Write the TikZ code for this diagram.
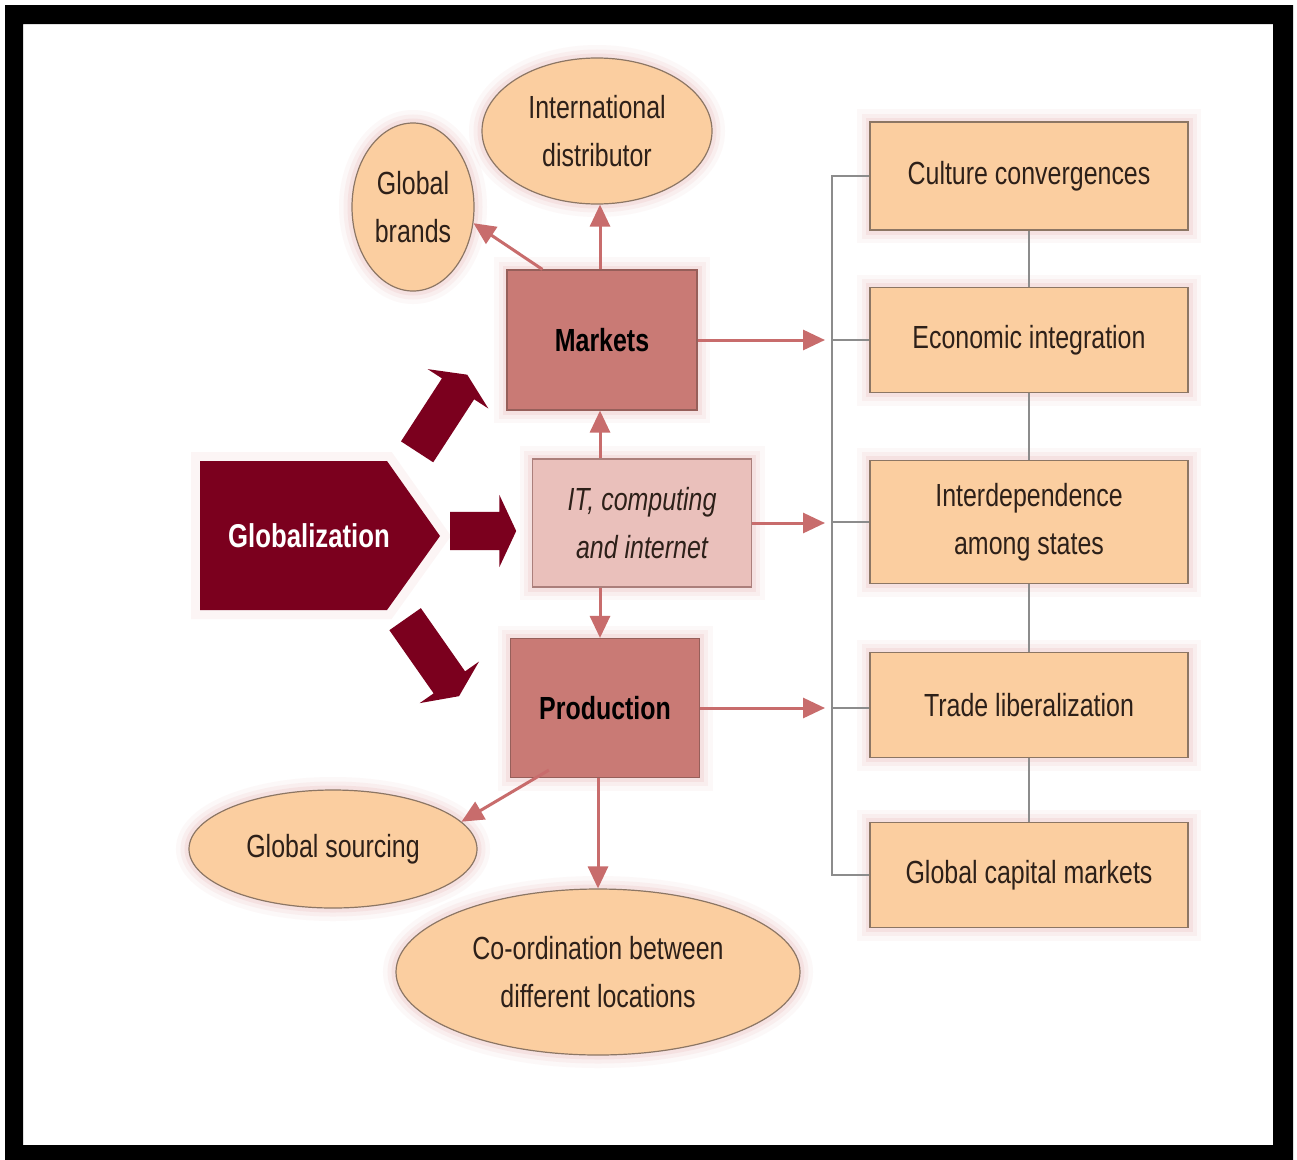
\documentclass[tikz,border=0pt]{standalone}
\usepackage{fontspec}
\setmainfont[FakeStretch=0.78]{Liberation Sans}
\usetikzlibrary{shapes.geometric,shapes.arrows,arrows.meta}
\definecolor{darkred}{RGB}{123,0,30}
\definecolor{midred}{RGB}{201,122,117}
\definecolor{midredline}{RGB}{150,95,90}
\definecolor{lightred}{RGB}{234,192,187}
\definecolor{peach}{RGB}{251,206,160}
\definecolor{peachline}{RGB}{140,118,100}
\definecolor{glowc}{RGB}{215,120,120}
\definecolor{arrowc}{RGB}{200,108,108}
\definecolor{busc}{RGB}{140,140,140}
\definecolor{txt}{RGB}{45,32,25}
\tikzset{
  glow/.style={
    preaction={draw=glowc,line width=26pt,opacity=0.05},
    preaction={draw=glowc,line width=17pt,opacity=0.07},
    preaction={draw=glowc,line width=9pt,opacity=0.10}},
  basefont/.style={font=\fontsize{32}{48}\selectfont, text=txt, align=center},
  redbox/.style={basefont, glow, rectangle, fill=midred, draw=midredline, line width=1.2pt, inner sep=0pt, font=\fontsize{32}{48}\selectfont\bfseries, text=black},
  itbox/.style={basefont, glow, rectangle, fill=lightred, draw=midredline!80, line width=1.2pt, inner sep=0pt, font=\fontsize{32}{48}\selectfont\itshape},
  peachbox/.style={basefont, glow, rectangle, fill=peach, draw=peachline, line width=1.2pt, inner sep=0pt, minimum width=318pt},
  peachell/.style={basefont, glow, ellipse, fill=peach, draw=peachline, line width=1.2pt, inner sep=0pt},
  bigarrow/.style={single arrow, fill=darkred, draw=none, inner sep=19pt, single arrow head extend=17pt, single arrow tip angle=130, single arrow head indent=0pt, anchor=tail},
  thinarrow/.style={draw=arrowc, line width=3pt, -{Triangle[length=22pt,width=20pt]}},
  busline/.style={draw=busc, line width=2.2pt}
}
\begin{document}
\begin{tikzpicture}[x=1pt,y=-1pt]
\useasboundingbox (0,0) rectangle (1297,1159);
\fill[white] (0,0) rectangle (1297,1159);
% frame
\fill[black, even odd rule] (5,5) rectangle (1293,1162) (23,24) rectangle (1273,1145);

% Globalization
\fill[darkred, preaction={draw=glowc,line width=18pt,opacity=0.07}] (200,461) -- (387,461) -- (440,536) -- (387,610) -- (200,610) -- cycle;
\node[font=\fontsize{33}{40}\selectfont\bfseries, text=white] (glob) at (309,536) {Globalization};

% big arrows
\node[bigarrow, minimum height=66pt] (ga) at (450,531) {};
\node[bigarrow, rotate=57, minimum height=92pt] (gu) at (417,452) {};
\node[bigarrow, rotate=-55, minimum height=94pt] (gd) at (405,619) {};

% central boxes
\node[redbox, minimum width=190pt, minimum height=140pt] (markets) at (602,340) {Markets};
\node[itbox, minimum width=219pt, minimum height=128pt] (it) at (642,523) {IT, computing\\and internet};
\node[redbox, minimum width=189pt, minimum height=139pt] (production) at (605,708) {Production};

% ellipses
\node[peachell, minimum width=230pt, minimum height=146pt] (dist) at (597,131) {International\\distributor};
\node[peachell, minimum width=122pt, minimum height=168pt] (brands) at (413,207) {Global\\brands};
\node[peachell, minimum width=288pt, minimum height=118pt] (sourcing) at (333,849) {Global sourcing};
\node[peachell, minimum width=404pt, minimum height=166pt] (coord) at (598,972) {Co-ordination between\\different locations};

% right column
\node[peachbox, minimum height=108pt] (culture) at (1029,176) {Culture convergences};
\node[peachbox, minimum height=105pt] (econ) at (1029,340) {Economic integration};
\node[peachbox, minimum height=123pt] (inter) at (1029,522) {Interdependence\\among states};
\node[peachbox, minimum height=105pt] (trade) at (1029,705) {Trade liberalization};
\node[peachbox, minimum height=105pt] (capital) at (1029,875) {Global capital markets};

% right column connectors
\coordinate (busx) at (832,0);
\draw[busline] (culture.west) -- (culture.west -| busx) -- (capital.west -| busx) -- (capital.west);
\draw[busline] (econ.west -| busx) -- (econ.west);
\draw[busline] (inter.west -| busx) -- (inter.west);
\draw[busline] (production.east -| busx) -- (production.east -| trade.west);
\draw[busline] (culture.south) -- (econ.north);
\draw[busline] (econ.south) -- (inter.north);
\draw[busline] (inter.south) -- (trade.north);
\draw[busline] (trade.south) -- (capital.north);

% thin arrows
\draw[thinarrow] (markets.east) -- ([xshift=-7pt]markets.east -| busx);
\draw[thinarrow] (it.east) -- ([xshift=-7pt]it.east -| busx);
\draw[thinarrow] (production.east) -- ([xshift=-7pt]production.east -| busx);
\draw[thinarrow] ([xshift=-2pt]markets.north) -- ([xshift=-2pt]markets.north |- dist.south);
\draw[thinarrow] ([xshift=36pt]markets.north west) -- (brands.-15);
\draw[thinarrow] ([xshift=-2pt]markets.south |- it.north) -- ([xshift=-2pt]markets.south);
\draw[thinarrow] ([xshift=-5pt]production.north |- it.south) -- ([xshift=-5pt]production.north);
\draw[thinarrow] ([xshift=39pt,yshift=8pt]production.south west) -- (sourcing.12);
\draw[thinarrow] ([xshift=-7pt]production.south) -- ([xshift=-7pt]production.south |- coord.north);
\end{tikzpicture}
\end{document}
